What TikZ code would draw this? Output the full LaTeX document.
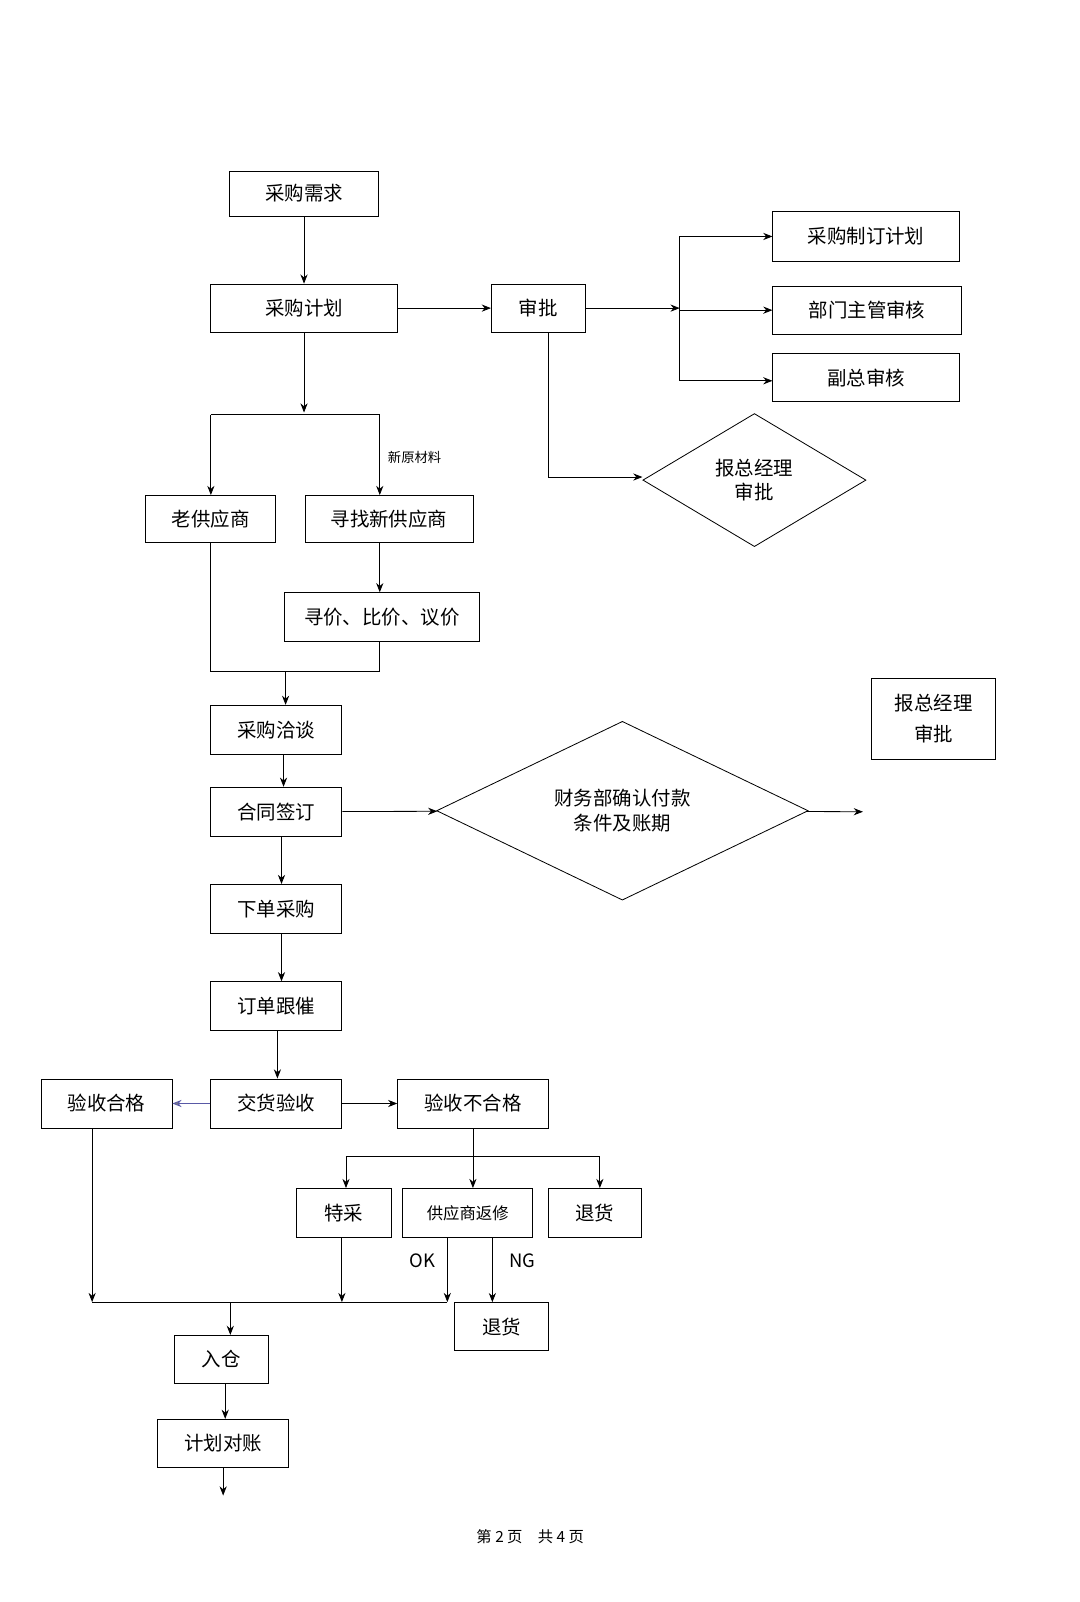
\documentclass[tikz,border=0pt]{standalone}
\usepackage{fontspec}
\setmainfont{Noto Sans CJK SC}
\usetikzlibrary{shapes.geometric,arrows.meta}
\begin{document}
\begin{tikzpicture}[x=1pt,y=-1pt,
  bx/.style={draw,line width=0.8pt,inner sep=0,font=\fontsize{19}{19}\selectfont},
  dm/.style={draw,line width=0.8pt,diamond,inner sep=0,font=\fontsize{19}{24}\selectfont,align=center},
  ar/.style={-{Stealth[length=9pt,width=7pt]},line width=0.8pt},
  ln/.style={line width=0.8pt}]
\useasboundingbox[fill=white] (0,0) rectangle (1055,1565);
\node[bx,minimum width=146pt,minimum height=44pt] (xq) at (297,189) {采购需求};
\node[bx,minimum width=182pt,minimum height=47pt] (jh) at (297,301) {采购计划};
\node[bx,minimum width=92pt,minimum height=47pt] (sp) at (526,301) {审批};
\node[bx,minimum width=182pt,minimum height=48pt] (zd) at (846,231) {采购制订计划};
\node[bx,minimum width=184pt,minimum height=47pt] (bm) at (847,303) {部门主管审核};
\node[bx,minimum width=182pt,minimum height=47pt] (fz) at (846,369) {副总审核};
\node[dm,minimum width=218pt,minimum height=130pt] (d1) at (737,469) {报总经理\\审批};
\node[bx,minimum width=127pt,minimum height=46pt] (lg) at (206,507) {老供应商};
\node[bx,minimum width=164pt,minimum height=46pt] (xz) at (380,507) {寻找新供应商};
\node[bx,minimum width=191pt,minimum height=48pt] (xj) at (373,603) {寻价、比价、议价};
\node[bx,minimum width=128pt,minimum height=48pt] (qt) at (270,713) {采购洽谈};
\node[bx,minimum width=121pt,minimum height=79pt,align=center,font=\fontsize{19}{30}\selectfont] (bz) at (912,702) {报总经理\\审批};
\node[bx,minimum width=128pt,minimum height=48pt] (ht) at (270,793) {合同签订};
\node[dm,minimum width=363pt,minimum height=131pt] (d2) at (608,792) {财务部确认付款\\条件及账期};
\coordinate (d2e) at (843,793);
\node[bx,minimum width=128pt,minimum height=48pt] (xd) at (270,888) {下单采购};
\node[bx,minimum width=128pt,minimum height=48pt] (gc) at (270,983) {订单跟催};
\node[bx,minimum width=128pt,minimum height=48pt] (jy) at (270,1078) {交货验收};
\node[bx,minimum width=128pt,minimum height=48pt] (hg) at (104,1078) {验收合格};
\node[bx,minimum width=147pt,minimum height=48pt] (bh) at (462,1078) {验收不合格};
\node[bx,minimum width=92pt,minimum height=48pt] (tc) at (336,1185) {特采};
\node[bx,minimum width=127pt,minimum height=48pt,font=\fontsize{16}{16}\selectfont] (fx) at (457,1185) {供应商返修};
\node[bx,minimum width=91pt,minimum height=48pt] (th1) at (581,1185) {退货};
\node[bx,minimum width=92pt,minimum height=47pt] (th2) at (490,1296) {退货};
\node[bx,minimum width=92pt,minimum height=47pt] (rc) at (216,1328) {入仓};
\node[bx,minimum width=128pt,minimum height=47pt] (dz) at (218,1410) {计划对账};
\coordinate (end) at (218,1461);
\node[font=\fontsize{13}{13}\selectfont] (xy) at (405,447) {新原材料};
\node[font=\fontsize{18}{18}\selectfont] (ok) at (413,1232) {OK};
\node[font=\fontsize{18}{18}\selectfont] (ng) at (510,1232) {NG};
\node[font=\fontsize{15}{15}\selectfont] (ft) at (518,1501) {第 2 页\quad 共 4 页};
% connectors
\draw[ar] (xq) -- (jh);
\draw[ar] (jh) -- (sp);
\draw[ar] (sp) -- (664,301);
\draw[ln] (664,231) -- (664,372);
\draw[ar] (664,231) -- (zd.west);
\draw[ar] (664,303) -- (bm.west);
\draw[ar] (664,372) -- (fz.west |- 0,372);
\draw[ar] (sp.south -| 536,0) -- (536,466) -- (d1.west |- 0,466);
\draw[ar] (jh) -- (297,403);
\draw[ln] (206,405) -- (371,405);
\draw[ar] (206,405) -- (lg.north -| 206,0);
\draw[ar] (371,405) -- (xz.north -| 371,0);
\draw[ar] (xz.south -| 371,0) -- (xj.north -| 371,0);
\draw[ln] (lg.south -| 206,0) -- (206,656) -- (371,656) -- (xj.south -| 371,0);
\draw[ar] (279,656) -- (qt.north -| 279,0);
\draw[ar] (qt.south -| 277,0) -- (ht.north -| 277,0);
\draw[ar] (ht) -- (d2);
\draw[ar] (d2) -- (d2e);
\draw[ar] (ht.south -| 275,0) -- (xd.north -| 275,0);
\draw[ar] (xd.south -| 275,0) -- (gc.north -| 275,0);
\draw[ar] (gc.south -| 271,0) -- (jy.north -| 271,0);
\draw[ar,draw=gray!70!blue,-{Stealth[length=9pt,width=7pt,fill=gray]}] (jy) -- (hg);
\draw[ar] (jy) -- (bh);
\draw[ln] (bh) -- (462,1130);
\draw[ln] (338,1130) -- (586,1130);
\draw[ar] (338,1130) -- (tc.north -| 338,0);
\draw[ar] (462,1130) -- (fx.north -| 462,0);
\draw[ar] (586,1130) -- (th1.north -| 586,0);
\draw[ar] (fx.south -| 437,0) -- (437,1272);
\draw[ar] (fx.south -| 481,0) -- (th2.north -| 481,0);
\draw[ar] (hg.south -| 90,0) -- (90,1272);
\draw[ar] (tc.south -| 334,0) -- (334,1272);
\draw[ln] (90,1272) -- (437,1272);
\draw[ar] (225,1272) -- (rc.north -| 225,0);
\draw[ar] (rc.south -| 220,0) -- (dz.north -| 220,0);
\draw[ar] (dz) -- (end);
\end{tikzpicture}
\end{document}
